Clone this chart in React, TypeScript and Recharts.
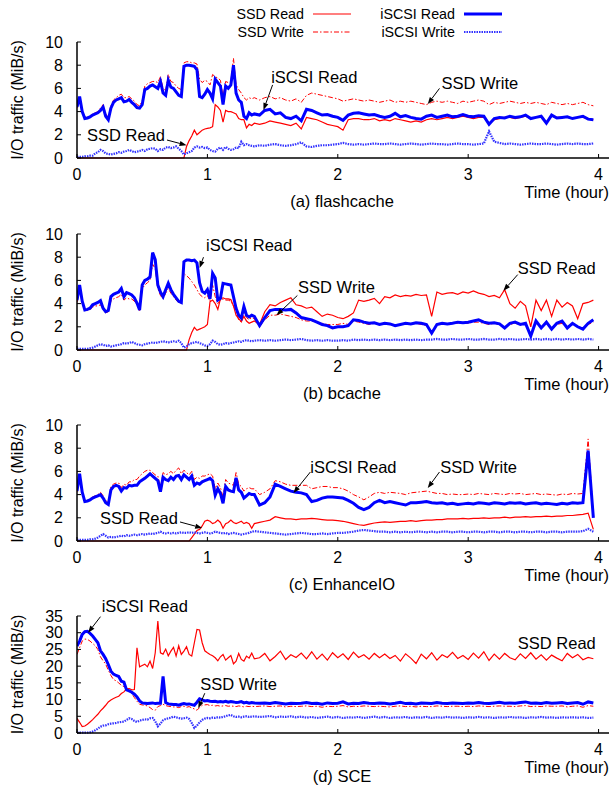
import React from "react";
import { LineChart, Line, XAxis, YAxis, ReferenceLine, ReferenceDot } from "recharts";

const FONT = '"Liberation Sans", Arial, Helvetica, sans-serif';

// time axis (hours): 0.02 h steps up to 1.36, then 0.04 h steps
const hours = [
  0, 0.02, 0.04, 0.06, 0.08, 0.1, 0.12, 0.14, 0.16, 0.18,
  0.2, 0.22, 0.24, 0.26, 0.28, 0.3, 0.32, 0.34, 0.36, 0.38,
  0.4, 0.42, 0.44, 0.46, 0.48, 0.5, 0.52, 0.54, 0.56, 0.58,
  0.6, 0.62, 0.64, 0.66, 0.68, 0.7, 0.72, 0.74, 0.76, 0.78,
  0.8, 0.82, 0.84, 0.86, 0.88, 0.9, 0.92, 0.94, 0.96, 0.98,
  1, 1.02, 1.04, 1.06, 1.08, 1.1, 1.12, 1.14, 1.16, 1.18,
  1.2, 1.22, 1.24, 1.26, 1.28, 1.3, 1.32, 1.34, 1.36,
  1.4, 1.44, 1.48, 1.52, 1.56, 1.6, 1.64, 1.68, 1.72, 1.76,
  1.8, 1.84, 1.88, 1.92, 1.96, 2, 2.04, 2.08, 2.12, 2.16,
  2.2, 2.24, 2.28, 2.32, 2.36, 2.4, 2.44, 2.48, 2.52, 2.56,
  2.6, 2.64, 2.68, 2.72, 2.76, 2.8, 2.84, 2.88, 2.92, 2.96,
  3, 3.04, 3.08, 3.12, 3.16, 3.2, 3.24, 3.28, 3.32, 3.36,
  3.4, 3.44, 3.48, 3.52, 3.56, 3.6, 3.64, 3.68, 3.72, 3.76,
  3.8, 3.84, 3.88, 3.92, 3.96,
];

const hourTicks = [0, 1, 2, 3, 4];
const mibTicks = [0, 2, 4, 6, 8, 10];
const sceTicks = [0, 5, 10, 15, 20, 25, 30, 35];

// (a) flashcache
const flashSsdRead = [
  0, 0, 0, 0, 0, 0, 0, 0, 0, 0,
  0, 0, 0, 0, 0, 0, 0, 0, 0, 0,
  0, 0, 0, 0, 0, 0, 0, 0, 0, 0,
  0, 0, 0, 0, 0, 0, 0, 0, 0, 0,
  0, 0, 1.0, 1.5, 1.9, 2.4, 2.0, 2.2, 2.4, 2.5,
  2.55, 2.6, 2.7, 4.6, 4.4, 4.1, 3.1, 4.1, 4.0, 4.0,
  3.9, 3.8, 3.4, 3.3, 3.3, 2.6, 2.9, 2.8, 3.0,
  2.9, 3.0, 3.2, 3.1, 3.0, 2.9, 2.8, 3.0, 2.5, 3.5,
  3.4, 3.3, 3.1, 2.9, 2.8, 2.7, 2.4, 3.3, 3.4, 3.4,
  3.3, 3.3, 3.4, 3.2, 3.3, 3.2, 3.4, 3.3, 3.2, 3.1,
  3.2, 3.1, 3.3, 3.4, 3.3, 3.4, 3.5, 3.4, 3.5, 3.6,
  3.5, 3.4, 3.5, 3.5, 3.0, 3.3, 3.4, 3.5, 3.5, 3.4,
  3.5, 3.6, 3.4, 3.5, 3.6, 3.1, 3.6, 3.5, 3.5, 3.5,
  3.4, 3.5, 3.5, 3.4, 3.3,
];
const flashSsdWrite = [
  4.3, 5.2, 4.1, 3.5, 3.5, 3.6, 3.8, 3.9, 4.0, 4.3,
  4.6, 3.8, 3.5, 4.5, 5.0, 5.2, 5.4, 5.5, 5.2, 5.2,
  5.3, 5.1, 4.9, 4.6, 4.5, 4.9, 6.2, 6.4, 6.5, 6.6,
  6.6, 6.5, 7.0, 6.0, 5.8, 7.2, 6.6, 6.5, 6.2, 6.0,
  5.9, 8.2, 8.3, 8.3, 8.2, 8.2, 8.1, 6.8, 6.5, 6.7,
  6.6, 6.3, 7.2, 7.0, 6.9, 6.7, 5.3, 6.6, 6.5, 6.6,
  8.6, 6.3, 5.9, 5.6, 5.2, 5.0, 5.2, 5.1, 5.2,
  5.0, 5.2, 5.3, 5.1, 5.2, 5.0, 4.9, 5.1, 4.8, 5.4,
  5.6, 5.5, 5.4, 5.3, 5.2, 5.1, 4.9, 5.0, 5.1, 5.0,
  4.9, 5.0, 4.9, 4.8, 4.9, 5.0, 4.8, 4.9, 4.8, 4.9,
  4.8, 4.7, 4.6, 4.8, 4.9, 4.8, 4.9, 4.8, 4.7, 4.9,
  4.8, 4.9, 5.0, 4.9, 4.6, 4.8, 4.7, 4.8, 4.9, 4.8,
  4.7, 4.8, 4.7, 4.8, 4.7, 4.6, 4.8, 4.7, 4.6, 4.7,
  4.6, 4.7, 4.8, 4.6, 4.5,
];
const flashIscsiRead = [
  4.4, 5.3, 4.0, 3.4, 3.45, 3.55, 3.7, 3.8, 3.9, 4.1,
  4.4, 3.6, 3.3, 4.3, 4.8, 5.0, 5.1, 5.2, 4.85, 4.9,
  5.05, 4.8, 4.6, 4.35, 4.3, 4.6, 5.9, 6.0, 6.2, 6.3,
  6.15, 6.0, 6.6, 5.6, 5.4, 6.7, 6.1, 6.0, 5.7, 5.4,
  5.3, 7.9, 8.0, 8.0, 7.95, 7.9, 7.6, 5.3, 5.2, 5.5,
  5.9, 5.6, 5.1, 6.8, 6.5, 6.2, 4.6, 6.2, 6.0, 6.3,
  8.0, 5.6, 5.0, 4.8, 3.6, 3.4, 3.9, 3.7, 3.8,
  3.7, 4.1, 4.2, 3.8, 3.9, 3.5, 3.4, 3.6, 3.2, 4.2,
  4.1, 3.9, 3.7, 3.75, 3.6, 3.5, 3.25, 3.7, 3.85, 3.9,
  3.8, 3.7, 3.75, 3.6, 3.5, 3.6, 3.85, 3.55, 3.65, 3.5,
  3.4, 3.35, 3.6, 3.7, 3.5, 3.6, 3.7, 3.55, 3.6, 3.75,
  3.6, 3.55, 3.65, 3.6, 2.9, 3.4, 3.5, 3.45, 3.6, 3.5,
  3.55, 3.7, 3.4, 3.5, 3.6, 3.0, 3.7, 3.45, 3.5, 3.55,
  3.4, 3.5, 3.6, 3.35, 3.3,
];
const flashIscsiWrite = [
  0.1, 0.1, 0.1, 0.15, 0.15, 0.2, 0.2, 0.4, 0.5, 0.7,
  0.6, 0.4, 0.35, 0.3, 0.35, 0.4, 0.5, 0.45, 0.55, 0.6,
  0.7, 0.6, 0.5, 0.55, 0.6, 0.7, 0.6, 0.75, 0.8, 0.85,
  0.8, 0.6, 0.75, 0.7, 0.9, 0.95, 0.85, 0.9, 1.0, 0.8,
  0.6, 0.3, 0.4, 0.5, 0.6, 0.9, 1.0, 0.9, 0.95, 0.85,
  0.9, 0.7, 0.6, 0.55, 0.8, 0.9, 0.7, 0.95, 0.8, 0.7,
  0.75, 0.9, 0.85, 1.4, 1.1, 1.2, 1.1, 1.05, 1.0,
  1.1, 1.05, 1.15, 1.2, 1.1, 1.05, 1.1, 1.2, 1.35, 1.0,
  0.95, 1.05, 1.1, 1.1, 1.15, 1.2, 1.3, 1.2, 1.15, 1.2,
  1.15, 1.2, 1.25, 1.2, 1.2, 1.25, 1.2, 1.15, 1.2, 1.25,
  1.2, 1.15, 1.2, 1.25, 1.2, 1.2, 1.15, 1.2, 1.25, 1.2,
  1.2, 1.15, 1.2, 1.25, 2.3, 1.4, 1.3, 1.2, 1.25, 1.2,
  1.15, 1.2, 1.25, 1.2, 1.2, 1.25, 1.2, 1.15, 1.2, 1.25,
  1.2, 1.25, 1.2, 1.2, 1.25,
];

// (b) bcache
const bcacheSsdRead = [
  0, 0, 0, 0, 0, 0, 0, 0, 0, 0,
  0, 0, 0, 0, 0, 0, 0, 0, 0, 0,
  0, 0, 0, 0, 0, 0, 0, 0, 0, 0,
  0, 0, 0, 0, 0, 0, 0, 0, 0, 0,
  0, 0, 0, 0.9, 1.5, 1.95, 1.7, 1.8, 1.9, 2.0,
  2.2, 4.15, 4.3, 4.0, 3.5, 4.4, 4.5, 4.4, 4.4, 4.35,
  3.8, 3.0, 2.7, 2.45, 2.9, 2.5, 2.3, 2.4, 2.5,
  2.2, 3.3, 3.9, 3.8, 4.1, 4.3, 4.5, 3.9, 3.8, 3.6,
  3.7, 3.3, 2.9, 3.1, 3.0, 2.8, 2.7, 2.9, 3.2, 4.3,
  4.2, 4.3, 4.45, 4.0, 4.6, 4.5, 4.75, 4.6, 4.7, 4.65,
  4.8, 4.7, 4.75, 2.9, 5.0, 4.8, 4.9, 4.95, 4.8, 5.0,
  4.9, 5.1, 4.9, 4.8, 4.6, 4.7, 4.5, 5.2, 4.0, 3.6,
  4.2, 3.8, 2.0, 4.3, 3.4, 4.3, 2.9, 4.3, 3.7, 4.1,
  3.8, 2.7, 4.0, 4.1, 4.3,
];
const bcacheSsdWrite = [
  4.1, 5.3, 4.0, 3.4, 3.4, 3.5, 3.7, 3.8, 3.8, 3.9,
  3.5, 3.2, 3.3, 4.2, 4.4, 4.5, 4.6, 4.8, 4.3, 4.5,
  4.4, 4.4, 4.2, 3.9, 3.4, 5.3, 5.6, 5.8, 6.0, 7.4,
  7.0, 5.3, 4.7, 4.4, 4.9, 5.3, 4.9, 4.6, 4.3, 4.1,
  4.0, 6.6, 6.4, 6.2, 5.9, 5.6, 5.2, 4.8, 4.6, 4.5,
  4.7, 4.2, 5.6, 4.6, 4.0, 4.3, 4.4, 4.3, 4.3, 4.2,
  3.8, 3.3, 2.6, 2.4, 3.2, 2.8, 2.6, 2.8, 2.7,
  2.0, 2.6, 3.0, 3.0, 3.1, 3.0, 2.9, 2.8, 2.6, 2.5,
  2.5, 2.4, 2.3, 2.2, 2.2, 2.2, 2.3, 2.2, 2.5, 2.4,
  2.3, 2.2, 2.3, 2.2, 2.2, 2.2, 2.1, 2.2, 2.2, 2.2,
  2.3, 2.2, 2.1, 1.6, 2.2, 2.2, 2.2, 2.3, 2.3, 2.3,
  2.3, 2.4, 2.4, 2.3, 2.2, 2.3, 2.2, 2.0, 2.2, 2.3,
  2.2, 2.2, 1.3, 2.3, 2.0, 2.3, 1.9, 2.2, 2.3, 2.0,
  2.2, 2.0, 1.9, 2.2, 2.4,
];
const bcacheIscsiRead = [
  4.3, 5.6, 4.2, 3.45, 3.5, 3.6, 3.9, 4.0, 4.1, 4.25,
  3.6, 3.3, 3.4, 4.6, 4.8, 4.9, 5.0, 5.3, 4.6, 4.95,
  4.85, 4.75, 4.5, 4.05, 3.45, 5.6, 6.0, 6.1, 6.3, 8.4,
  7.8, 5.6, 5.0, 4.6, 5.2, 5.75, 5.2, 4.8, 4.5, 4.2,
  4.1, 7.6, 7.75, 7.75, 7.7, 7.75, 7.5, 5.8, 5.05, 4.9,
  5.2, 4.4, 6.6, 6.2, 4.3, 4.45, 5.75, 5.7, 5.65, 5.6,
  4.6, 3.6, 3.0, 2.75, 3.75, 3.0, 2.85, 3.0, 2.9,
  2.1, 2.8, 3.4, 3.5, 3.5, 3.45, 3.5, 3.2, 2.8, 2.7,
  2.6, 2.4, 2.2, 2.1, 1.9, 2.0, 2.0, 2.1, 2.6, 2.55,
  2.4, 2.3, 2.35, 2.2, 2.3, 2.25, 2.1, 2.2, 2.3, 2.25,
  2.35, 2.3, 2.2, 1.45, 2.2, 2.3, 2.25, 2.3, 2.4, 2.35,
  2.4, 2.5, 2.6, 2.4, 2.3, 2.35, 2.25, 1.9, 2.3, 2.4,
  2.2, 2.3, 1.2, 2.5, 1.9, 2.4, 1.8, 2.3, 2.5, 1.9,
  2.3, 2.0, 1.8, 2.3, 2.6,
];
const bcacheIscsiWrite = [
  0.1, 0.1, 0.1, 0.1, 0.1, 0.15, 0.2, 0.3, 0.4, 0.5,
  0.45, 0.35, 0.4, 0.3, 0.35, 0.4, 0.45, 0.5, 0.6, 0.55,
  0.6, 0.7, 0.6, 0.5, 0.45, 0.4, 0.5, 0.55, 0.6, 0.65,
  0.6, 0.65, 0.7, 0.75, 0.7, 0.65, 0.7, 0.75, 0.7, 0.8,
  0.6, 0.2, 0.3, 0.5, 0.6, 0.65, 0.7, 0.6, 0.5, 0.4,
  0.35, 0.5, 0.8, 0.7, 0.5, 0.45, 0.5, 0.6, 0.55, 0.6,
  0.65, 0.7, 0.75, 0.7, 0.8, 0.85, 0.8, 0.75, 0.8,
  0.85, 0.8, 0.85, 0.8, 0.85, 0.9, 0.85, 0.9, 0.95, 0.85,
  0.8, 0.85, 0.8, 0.85, 0.8, 0.8, 0.85, 0.8, 0.9, 0.85,
  0.9, 0.85, 0.9, 0.85, 0.9, 0.85, 0.9, 0.85, 0.9, 0.85,
  0.9, 0.85, 0.9, 0.9, 0.95, 0.9, 0.9, 0.95, 0.9, 0.9,
  0.95, 0.9, 0.9, 0.95, 0.9, 0.9, 0.95, 0.9, 0.95, 0.9,
  0.9, 0.95, 0.9, 0.95, 0.9, 0.95, 0.9, 0.95, 0.9, 0.95,
  0.9, 0.95, 0.9, 0.95, 0.9,
];

// (c) EnhanceIO
const enhanceSsdRead = [
  0, 0, 0, 0, 0, 0, 0, 0, 0, 0,
  0, 0, 0, 0, 0, 0, 0, 0, 0, 0,
  0, 0, 0, 0, 0, 0, 0, 0, 0, 0,
  0, 0, 0, 0, 0, 0, 0, 0, 0, 0,
  0, 0, 0, 0, 0.3, 0.6, 0.9, 1.0, 1.3, 1.7,
  1.8, 1.7, 1.5, 1.6, 1.8, 1.6, 1.1, 1.5, 1.6, 1.8,
  1.6, 1.5, 1.6, 1.7, 1.5, 1.6, 1.5, 1.1, 1.5,
  1.6, 1.7, 1.8, 2.1, 2.0, 1.9, 1.9, 1.85, 1.9, 1.9,
  1.95, 1.9, 1.85, 1.8, 1.8, 1.75, 1.7, 1.6, 1.5, 1.4,
  1.35, 1.45, 1.55, 1.6, 1.65, 1.6, 1.65, 1.7, 1.7, 1.75,
  1.7, 1.75, 1.8, 1.8, 1.85, 1.85, 1.9, 1.9, 1.9, 1.95,
  1.9, 1.95, 1.95, 2.0, 1.95, 2.0, 2.0, 2.05, 2.0, 2.05,
  2.05, 2.1, 2.05, 2.1, 2.1, 2.15, 2.1, 2.15, 2.15, 2.2,
  2.2, 2.25, 2.3, 2.4, 1.0,
];
const enhanceSsdWrite = [
  4.2, 5.7, 4.1, 3.4, 3.5, 3.6, 3.8, 3.9, 4.0, 4.2,
  3.9, 3.5, 3.3, 4.7, 4.9, 5.0, 5.0, 4.6, 4.9, 4.8,
  5.1, 5.1, 5.3, 5.3, 5.6, 5.8, 6.0, 6.1, 6.1, 5.9,
  5.7, 5.6, 4.6, 5.9, 5.7, 5.8, 6.0, 5.8, 6.1, 6.3,
  5.8, 6.1, 5.9, 5.7, 6.0, 5.3, 5.5, 5.4, 5.6, 5.6,
  5.7, 5.8, 5.6, 4.5, 5.0, 4.6, 3.8, 5.3, 5.0, 4.9,
  4.8, 5.9, 4.9, 4.7, 4.3, 4.5, 4.6, 4.5, 4.5,
  4.0, 4.2, 4.5, 5.2, 5.1, 4.9, 4.8, 4.8, 4.8, 4.8,
  4.5, 4.6, 4.7, 4.7, 4.6, 4.6, 4.5, 4.3, 4.0, 3.8,
  3.55, 3.8, 4.1, 4.2, 4.1, 4.2, 4.15, 4.1, 4.0, 4.15,
  4.2, 4.25, 4.3, 4.2, 4.1, 4.1, 4.0, 4.05, 4.0, 4.0,
  4.05, 4.0, 4.1, 4.05, 4.0, 4.1, 4.05, 4.0, 4.1, 4.05,
  4.1, 4.0, 4.05, 4.1, 4.0, 4.05, 4.0, 3.95, 4.05, 4.0,
  4.1, 4.05, 4.1, 8.8, 2.2,
];
const enhanceIscsiRead = [
  4.3, 5.8, 4.2, 3.4, 3.45, 3.55, 3.7, 3.8, 3.9, 4.0,
  3.7, 3.3, 3.15, 4.4, 4.7, 4.8, 4.7, 4.3, 4.6, 4.55,
  4.8, 4.75, 4.8, 4.8, 5.1, 5.25, 5.4, 5.6, 5.8, 5.6,
  5.4, 5.2, 4.25, 5.5, 5.3, 5.2, 5.5, 5.3, 5.6, 5.65,
  5.3, 5.7, 5.5, 5.3, 5.6, 4.8, 5.0, 4.9, 5.1, 5.2,
  5.3, 5.4, 5.2, 3.95, 4.5, 4.1, 3.25, 4.7, 4.4, 4.3,
  4.25, 5.45, 4.4, 4.2, 3.7, 3.9, 4.1, 4.0, 4.0,
  3.1, 3.3, 3.8, 4.9, 4.7, 4.5, 4.3, 4.2, 4.15, 4.0,
  3.4, 3.5, 3.7, 3.8, 3.8, 3.75, 3.7, 3.5, 3.25, 2.9,
  2.7, 2.9, 3.3, 3.5, 3.3, 3.4, 3.3, 3.2, 3.1, 3.3,
  3.3, 3.35, 3.4, 3.3, 3.25, 3.3, 3.2, 3.25, 3.15, 3.2,
  3.25, 3.2, 3.3, 3.25, 3.2, 3.3, 3.25, 3.2, 3.3, 3.25,
  3.3, 3.2, 3.25, 3.3, 3.2, 3.25, 3.2, 3.15, 3.25, 3.2,
  3.3, 3.25, 3.3, 7.8, 2.0,
];
const enhanceIscsiWrite = [
  0.1, 0.1, 0.1, 0.1, 0.1, 0.15, 0.15, 0.2, 0.3, 0.45,
  0.6, 0.45, 0.3, 0.35, 0.3, 0.35, 0.4, 0.45, 0.4, 0.5,
  0.45, 0.5, 0.55, 0.5, 0.55, 0.6, 0.55, 0.6, 0.65, 0.6,
  0.65, 0.7, 0.8, 0.7, 0.65, 0.7, 0.65, 0.7, 0.65, 0.7,
  0.75, 0.7, 0.7, 0.75, 0.7, 0.75, 0.7, 0.65, 0.7, 0.75,
  0.7, 0.65, 0.7, 0.8, 0.75, 0.7, 0.65, 0.7, 0.6, 0.65,
  0.7, 0.65, 0.6, 0.55, 0.6, 0.65, 0.7, 0.8, 0.85,
  0.8, 0.75, 0.7, 0.65, 0.6, 0.55, 0.6, 0.65, 0.7, 0.65,
  0.6, 0.6, 0.65, 0.6, 0.65, 0.7, 0.7, 0.75, 0.8, 0.9,
  0.95, 0.9, 0.85, 0.8, 0.8, 0.75, 0.8, 0.75, 0.8, 0.75,
  0.8, 0.8, 0.75, 0.8, 0.75, 0.8, 0.8, 0.75, 0.8, 0.8,
  0.75, 0.8, 0.8, 0.75, 0.8, 0.8, 0.75, 0.8, 0.8, 0.75,
  0.8, 0.8, 0.75, 0.8, 0.8, 0.75, 0.8, 0.8, 0.75, 0.8,
  0.8, 0.8, 0.85, 1.05, 0.8,
];

// (d) SCE
const sceSsdRead = [
  4.4, 3.2, 1.9, 2.1, 2.6, 3.3, 4.0, 4.8, 5.6, 6.6,
  7.4, 8.3, 9.3, 9.9, 10.3, 10.7, 11.0, 11.8, 12.3, 13.2,
  13.3, 12.9, 13.0, 25.5, 19.8, 20.2, 20.6, 19.8, 21.5, 19.3,
  24.0, 33.5, 24.0, 23.6, 25.1, 23.1, 24.5, 25.6, 23.0, 26.1,
  23.5, 24.5, 25.8, 23.5, 23.0, 27.0, 31.0, 30.8, 27.0, 24.6,
  24.0, 23.5, 23.1, 22.5, 21.6, 22.8, 23.5, 21.8, 22.5, 23.2,
  20.7, 21.5, 23.8, 22.0, 21.5, 23.0, 22.4, 23.9, 22.2,
  22.5, 23.8, 21.6, 22.9, 24.5, 22.0, 23.4, 22.6, 23.9, 22.2,
  24.3, 22.1, 23.6, 21.8, 24.0, 22.5, 23.7, 22.0, 24.2, 22.6,
  23.4, 22.1, 23.8, 22.5, 23.6, 22.3, 23.2, 21.5, 23.7, 22.4,
  20.8, 23.6, 22.2, 24.0, 21.8, 23.4, 22.6, 24.1, 22.3, 23.2,
  22.0, 23.9, 22.4, 24.3, 21.7, 23.6, 22.1, 23.8, 22.5, 21.9,
  23.7, 22.3, 24.0, 22.1, 23.4, 21.8, 23.3, 22.4, 21.6, 23.8,
  22.5, 23.5, 21.9, 22.6, 22.2,
];
const sceSsdWrite = [
  23.5, 25.5, 27.5, 28.1, 28.0, 27.5, 26.8, 26.1, 25.0, 22.8,
  21.6, 20.6, 18.8, 17.2, 16.0, 15.6, 15.0, 14.2, 13.9, 13.3,
  12.9, 11.8, 10.6, 9.5, 8.6, 8.4, 8.3, 8.1, 7.6, 7.0,
  6.8, 7.9, 8.2, 8.6, 8.2, 8.0, 7.9, 7.8, 7.8, 7.6,
  7.9, 8.0, 7.7, 7.9, 7.5, 7.2, 6.8, 7.6, 8.3, 8.4,
  8.5, 8.2, 8.3, 8.1, 8.2, 8.0, 8.1, 8.2, 8.0, 8.1,
  8.0, 7.9, 8.1, 8.0, 7.8, 8.0, 7.9, 8.0, 7.9,
  8.0, 8.1, 7.9, 8.0, 8.1, 7.8, 8.0, 7.9, 8.0, 8.1,
  7.9, 8.0, 7.7, 8.0, 7.9, 8.0, 8.2, 7.8, 8.0, 7.9,
  8.1, 8.0, 7.9, 8.0, 7.9, 7.8, 8.0, 8.1, 7.9, 8.0,
  7.8, 8.0, 7.9, 7.9, 8.1, 8.0, 7.9, 8.0, 8.0, 7.9,
  8.0, 7.9, 8.1, 8.0, 7.9, 8.0, 8.1, 8.0, 8.0, 7.9,
  8.1, 8.2, 7.9, 8.0, 7.9, 8.1, 8.0, 8.0, 8.1, 7.8,
  8.0, 8.1, 7.7, 8.2, 8.0,
];
const sceIscsiRead = [
  26.0, 27.5, 29.5, 30.3, 30.4, 29.8, 29.0, 28.0, 27.0, 24.6,
  23.5, 22.2, 20.5, 18.5, 17.6, 17.2, 16.9, 15.5, 15.2, 12.9,
  12.6, 12.2, 11.6, 10.8, 9.6, 9.0, 8.9, 8.8, 8.9, 9.0,
  8.8, 8.9, 8.9, 16.9, 9.1, 8.7, 8.6, 8.5, 8.5, 8.3,
  8.6, 8.8, 8.6, 8.7, 8.5, 8.3, 9.2, 10.2, 9.9, 9.6,
  9.7, 9.5, 9.4, 9.5, 9.3, 9.4, 9.3, 9.5, 9.2, 9.4,
  9.3, 9.1, 9.2, 9.4, 9.0, 9.2, 8.9, 9.1, 9.0,
  8.9, 9.0, 8.8, 9.1, 8.9, 8.7, 8.9, 8.8, 8.9, 9.1,
  8.8, 8.9, 8.6, 9.0, 8.8, 8.9, 9.3, 8.7, 8.9, 8.8,
  9.1, 8.9, 8.8, 9.0, 8.9, 8.7, 8.9, 9.2, 8.8, 8.9,
  8.7, 9.0, 8.9, 8.8, 9.1, 8.9, 8.8, 9.0, 8.9, 8.8,
  9.0, 8.9, 9.1, 8.9, 8.8, 9.0, 9.2, 8.9, 9.0, 8.9,
  9.1, 9.3, 8.9, 9.0, 8.8, 9.1, 8.9, 9.0, 9.1, 8.8,
  9.0, 9.1, 8.6, 9.3, 9.0,
];
const sceIscsiWrite = [
  0.1, 0.1, 0.1, 0.1, 0.1, 0.2, 0.4, 0.8, 1.3, 1.9,
  2.2, 2.3, 2.6, 2.8, 2.9, 3.0, 3.2, 3.3, 3.4, 3.9,
  4.4, 4.2, 3.6, 3.3, 3.7, 3.9, 4.1, 4.0, 4.4, 4.5,
  3.5, 2.0, 2.8, 3.8, 4.2, 4.4, 4.6, 4.9, 4.7, 4.5,
  4.3, 4.4, 4.6, 4.2, 3.0, 1.5, 2.2, 3.2, 3.9, 4.3,
  4.5, 4.4, 4.6, 4.5, 4.7, 4.6, 4.8, 5.0, 5.3, 5.4,
  5.0, 4.8, 4.9, 4.7, 4.9, 5.0, 4.8, 4.9, 5.0,
  4.8, 4.9, 5.1, 4.7, 4.9, 4.8, 5.0, 4.7, 4.9, 4.6,
  4.8, 4.5, 4.7, 4.9, 4.6, 4.8, 4.5, 4.7, 4.6, 4.8,
  4.5, 4.7, 4.9, 4.6, 4.8, 4.5, 4.7, 4.6, 4.8, 4.5,
  4.7, 4.6, 4.8, 4.5, 4.7, 4.6, 4.8, 4.6, 4.7, 4.5,
  4.7, 4.6, 4.8, 4.6, 4.7, 4.5, 4.7, 4.6, 4.8, 4.6,
  4.7, 4.5, 4.7, 4.6, 4.8, 4.6, 4.7, 4.5, 4.7, 4.6,
  4.7, 4.6, 4.7, 4.5, 4.6,
];

type Note = { text: string; x: number; y: number; from?: [number, number]; to?: [number, number] };

const flashNotes: Note[] = [
  { text: "iSCSI Read", x: 1.82, y: 6.98, from: [1.5, 6.3], to: [1.43, 4.14] },
  { text: "SSD Write", x: 3.09, y: 6.47, from: [2.78, 6.0], to: [2.69, 4.65] },
  { text: "SSD Read", x: 0.376, y: 1.98, from: [0.69, 1.55], to: [0.84, 1.1] },
];
const bcacheNotes: Note[] = [
  { text: "iSCSI Read", x: 1.32, y: 9.05, from: [0.97, 8.0], to: [0.94, 7.07] },
  { text: "SSD Write", x: 1.99, y: 5.43, from: [1.69, 4.7], to: [1.53, 3.0] },
  { text: "SSD Read", x: 3.68, y: 7.07, from: [3.38, 6.5], to: [3.27, 5.1] },
];
const enhanceNotes: Note[] = [
  { text: "SSD Read", x: 0.475, y: 1.98, from: [0.79, 1.64], to: [0.96, 1.12] },
  { text: "iSCSI Read", x: 2.12, y: 6.38, from: [1.79, 5.95], to: [1.66, 4.14] },
  { text: "SSD Write", x: 3.08, y: 6.38, from: [2.78, 5.95], to: [2.69, 4.57] },
];
const sceNotes: Note[] = [
  { text: "iSCSI Read", x: 0.52, y: 38.0, from: [0.18, 34.8], to: [0.085, 30.0] },
  { text: "SSD Write", x: 1.24, y: 14.8, from: [0.98, 11.9], to: [0.93, 7.4] },
  { text: "SSD Read", x: 3.68, y: 27.0 },
];

const panels = [
  { caption: "(a) flashcache", top: 42, height: 116, yMax: 10, yTicks: mibTicks, ssdRead: flashSsdRead, ssdWrite: flashSsdWrite, iscsiRead: flashIscsiRead, iscsiWrite: flashIscsiWrite, notes: flashNotes },
  { caption: "(b) bcache", top: 234, height: 116, yMax: 10, yTicks: mibTicks, ssdRead: bcacheSsdRead, ssdWrite: bcacheSsdWrite, iscsiRead: bcacheIscsiRead, iscsiWrite: bcacheIscsiWrite, notes: bcacheNotes },
  { caption: "(c) EnhanceIO", top: 425, height: 116, yMax: 10, yTicks: mibTicks, ssdRead: enhanceSsdRead, ssdWrite: enhanceSsdWrite, iscsiRead: enhanceIscsiRead, iscsiWrite: enhanceIscsiWrite, notes: enhanceNotes },
  { caption: "(d) SCE", top: 616, height: 117, yMax: 35, yTicks: sceTicks, ssdRead: sceSsdRead, ssdWrite: sceSsdWrite, iscsiRead: sceIscsiRead, iscsiWrite: sceIscsiWrite, notes: sceNotes },
];

const styles = {
  ssdRead: { stroke: "#ff0000", strokeWidth: 1.2 },
  ssdWrite: { stroke: "#ff0000", strokeWidth: 1, strokeDasharray: "5 2 1.5 2" },
  iscsiRead: { stroke: "#0000ff", strokeWidth: 3 },
  iscsiWrite: { stroke: "#3333ff", strokeWidth: 2.2, strokeDasharray: "1.5 1" },
};

const ArrowShape = (props: any) => {
  const { x1, y1, x2, y2 } = props;
  const ang = Math.atan2(y2 - y1, x2 - x1);
  const len = 7;
  const half = 2.6;
  const bx = x2 - len * Math.cos(ang);
  const by = y2 - len * Math.sin(ang);
  const ox = -Math.sin(ang) * half;
  const oy = Math.cos(ang) * half;
  return (
    <g>
      <line x1={x1} y1={y1} x2={bx} y2={by} stroke="#000" strokeWidth={1} />
      <polygon points={`${x2},${y2} ${bx + ox},${by + oy} ${bx - ox},${by - oy}`} fill="#000" />
    </g>
  );
};

function Panel({ p }: { p: (typeof panels)[number] }) {
  const rows = hours.map((h, i) => ({
    h,
    ssdRead: p.ssdRead[i],
    ssdWrite: p.ssdWrite[i],
    iscsiRead: p.iscsiRead[i],
    iscsiWrite: p.iscsiWrite[i],
  }));
  const tickStyle = { fill: "#000", fontSize: 16, fontFamily: FONT };
  return (
    <div style={{ position: "absolute", left: 0, top: p.top - 30 }}>
      <LineChart width={610} height={p.height + 60} data={rows} margin={{ top: 30, right: 1, bottom: 0, left: 0 }}>
        <XAxis
          dataKey="h"
          type="number"
          domain={[0, 4.08]}
          ticks={hourTicks}
          interval={0}
          allowDataOverflow
          height={30}
          tickSize={-4}
          tickMargin={15}
          tick={tickStyle}
          axisLine={{ stroke: "#000", strokeWidth: 1.5 }}
          tickLine={{ stroke: "#000" }}
        />
        <YAxis
          type="number"
          domain={[0, p.yMax]}
          ticks={p.yTicks}
          interval={0}
          width={77}
          tickSize={-4}
          tickMargin={18}
          tick={tickStyle}
          axisLine={{ stroke: "#000", strokeWidth: 1.5 }}
          tickLine={{ stroke: "#000" }}
        />
        <Line type="linear" dataKey="ssdRead" {...styles.ssdRead} dot={false} activeDot={false} isAnimationActive={false} />
        <Line type="linear" dataKey="ssdWrite" {...styles.ssdWrite} dot={false} activeDot={false} isAnimationActive={false} />
        <Line type="linear" dataKey="iscsiRead" {...styles.iscsiRead} dot={false} activeDot={false} isAnimationActive={false} />
        <Line type="linear" dataKey="iscsiWrite" {...styles.iscsiWrite} dot={false} activeDot={false} isAnimationActive={false} />
        {p.notes
          .filter((n) => n.from && n.to)
          .map((n) => (
            <ReferenceLine
              key={"arrow-" + n.text}
              segment={[
                { x: n.from![0], y: n.from![1] },
                { x: n.to![0], y: n.to![1] },
              ]}
              ifOverflow="visible"
              shape={ArrowShape}
            />
          ))}
        {p.notes.map((n) => (
          <ReferenceDot
            key={"text-" + n.text}
            x={n.x}
            y={n.y}
            r={0}
            ifOverflow="visible"
            shape={(d: any) => (
              <text x={d.cx} y={d.cy} textAnchor="middle" dominantBaseline="central" fontSize={16.5} fontFamily={FONT} fill="#000">
                {n.text}
              </text>
            )}
          />
        ))}
      </LineChart>
    </div>
  );
}

const legendItems = [
  { label: "SSD Read", key: "ssdRead", x: 304, y: 14 },
  { label: "SSD Write", key: "ssdWrite", x: 304, y: 32 },
  { label: "iSCSI Read", key: "iscsiRead", x: 455, y: 14 },
  { label: "iSCSI Write", key: "iscsiWrite", x: 455, y: 32 },
] as const;

export default function App() {
  return (
    <div style={{ position: "absolute", left: 0, top: 0, width: 610, height: 785, background: "#fff", fontFamily: FONT }}>
      {panels.map((p) => (
        <Panel key={p.caption} p={p} />
      ))}
      <svg width={610} height={785} style={{ position: "absolute", left: 0, top: 0, pointerEvents: "none" }}>
        {legendItems.map((it) => (
          <g key={it.label}>
            <text x={it.x} y={it.y} textAnchor="end" dominantBaseline="central" fontSize={14.3} fontFamily={FONT} fill="#000">
              {it.label}
            </text>
            <line x1={it.x + 9} x2={it.x + 47} y1={it.y} y2={it.y} {...styles[it.key]} />
          </g>
        ))}
        {panels.map((p) => {
          const bottom = p.top + p.height;
          return (
            <g key={"lbl-" + p.caption}>
              <text
                transform={`translate(17, ${p.top + p.height / 2}) rotate(-90)`}
                textAnchor="middle"
                dominantBaseline="central"
                fontSize={16}
                fontFamily={FONT}
                fill="#000"
              >
                I/O traffic (MiB/s)
              </text>
              <text x={609} y={bottom + 34} textAnchor="end" dominantBaseline="central" fontSize={16.5} fontFamily={FONT} fill="#000">
                Time (hour)
              </text>
              <text x={342} y={bottom + 43} textAnchor="middle" dominantBaseline="central" fontSize={16.5} fontFamily={FONT} fill="#000">
                {p.caption}
              </text>
            </g>
          );
        })}
      </svg>
    </div>
  );
}
